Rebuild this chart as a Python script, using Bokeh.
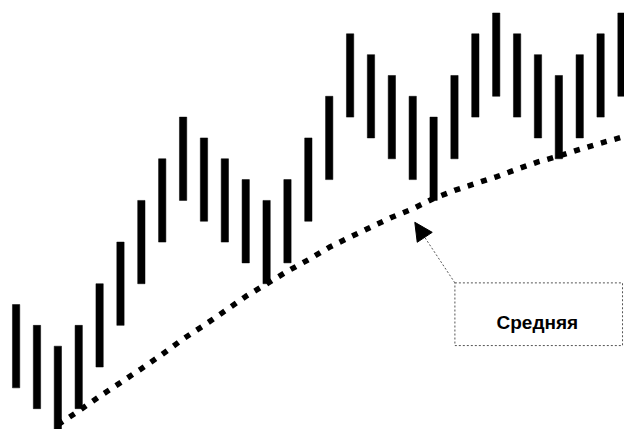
from bokeh.plotting import figure
from bokeh.models import Range1d, ColumnDataSource, Arrow, NormalHead, Label
from bokeh.embed import file_html
from bokeh.resources import INLINE

# ---- data (price-range bars and moving average, in price levels) ----
bar_index = list(range(1, 31))
bar_high = [6, 5, 4, 5, 7, 9, 11, 13, 15, 14, 13, 12, 11, 12, 14,
            16, 19, 18, 17, 16, 15, 17, 19, 20, 19, 18, 17, 18, 19, 20]
bar_low = [2, 1, 0, 1, 3, 5, 7, 9, 11, 10, 9, 8, 7, 8, 10,
           12, 15, 14, 13, 12, 11, 13, 15, 16, 15, 14, 13, 14, 15, 16]
ma_index = list(range(3, 31))
ma_value = [0.23, 0.89, 1.59, 2.25, 2.92, 3.61, 4.35, 5.0, 5.69, 6.39,
            6.99, 7.6, 8.15, 8.75, 9.24, 9.72, 10.19, 10.6, 11.09, 11.48,
            11.81, 12.13, 12.5, 12.85, 13.13, 13.45, 13.75, 14.03]
label_text = "Средняя"

# ---- layout constants ----
X_RANGE = (0.2527, 30.145)
Y_RANGE = (0.0, 20.6)
BOX = dict(left=22.02, right=30.05, bottom=4.03, top=7.04)
LABEL_POS = (25.97, 5.14)
ARROW_START = (22.02, 7.04)
ARROW_END = (20.1, 9.95)

src = ColumnDataSource(dict(x=bar_index, high=bar_high, low=bar_low))

p = figure(width=624, height=429, output_backend="svg", toolbar_location=None,
           x_range=Range1d(*X_RANGE), y_range=Range1d(*Y_RANGE),
           x_axis_location=None, y_axis_location=None,
           min_border=0, outline_line_color=None,
           background_fill_color="white", border_fill_color="white")
p.grid.visible = False

p.vbar(x="x", top="high", bottom="low", width=0.35, source=src,
       fill_color="black", line_color="black", line_width=0.5)

p.line(ma_index, ma_value, line_width=5.5, line_dash="6 8", line_color="black")

p.quad(left=[BOX["left"]], right=[BOX["right"]], bottom=[BOX["bottom"]], top=[BOX["top"]],
       fill_color=None, line_color="#555555", line_dash="2 2", line_width=1)

p.add_layout(Label(x=LABEL_POS[0], y=LABEL_POS[1], text=label_text,
                   text_align="center", text_baseline="alphabetic",
                   text_font="Liberation Sans", text_font_style="bold",
                   text_font_size="19px", text_color="black"))

p.add_layout(Arrow(x_start=ARROW_START[0], y_start=ARROW_START[1],
                   x_end=ARROW_END[0], y_end=ARROW_END[1],
                   end=NormalHead(size=18, fill_color="black", line_color="black"),
                   line_color="#555555", line_dash="2 2", line_width=1))

with open("out.html", "w", encoding="utf-8") as f:
    f.write(file_html(p, INLINE))
